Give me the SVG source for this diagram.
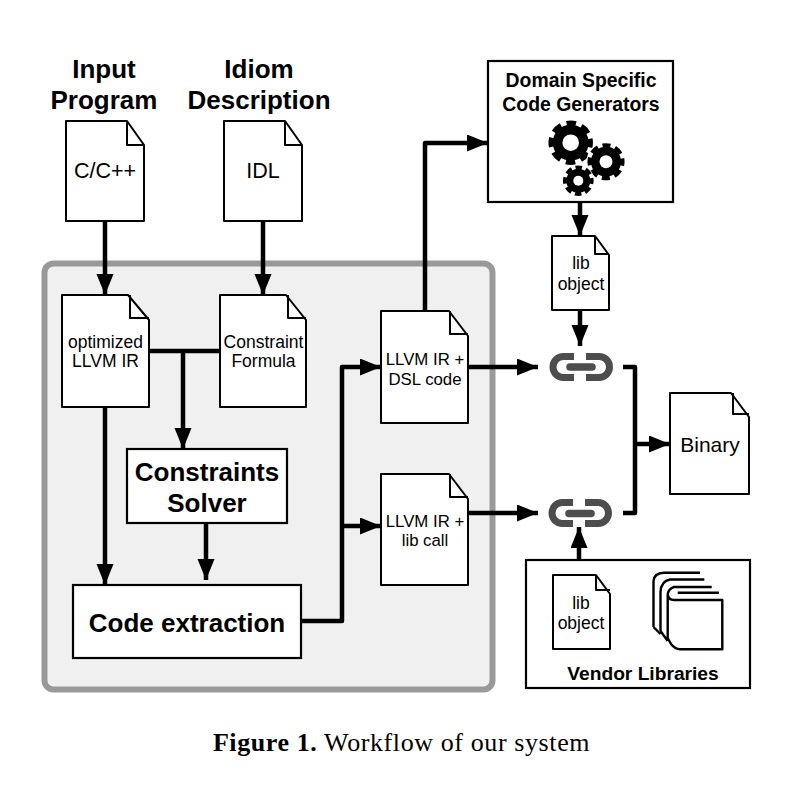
<svg xmlns="http://www.w3.org/2000/svg" width="797" height="793" viewBox="0 0 797 793">
<style>
text{font-family:"Liberation Sans",Arial,sans-serif;fill:#000;text-anchor:middle}
.b{font-weight:bold}
.box{fill:#fff;stroke:#000;stroke-width:2.2}
.doc{fill:#fff;stroke:#000;stroke-width:2;stroke-linejoin:round}
.fold{fill:none;stroke:#000;stroke-width:2;stroke-linejoin:round}
.c{fill:none;stroke:#000;stroke-width:4.5;stroke-linejoin:round}
.a{marker-end:url(#h)}
.link{fill:none;stroke:#4d4d4d;stroke-width:7}
.bar{stroke:#4d4d4d;stroke-width:7.5;stroke-linecap:round}
.stack{fill:none;stroke:#000;stroke-width:2.4;stroke-linejoin:round}
</style>
<defs>
<marker id="h" markerUnits="userSpaceOnUse" markerWidth="22" markerHeight="18" refX="21" refY="8.5" orient="auto"><path d="M0 0L21 8.5L0 17z" fill="#000"/></marker>
</defs>
<rect width="797" height="793" fill="#fff"/>
<rect id="workflow-container" x="44.5" y="263.5" width="448" height="426" rx="9" fill="#f0f0f0" stroke="#999" stroke-width="6"/>
<g id="connectors">
<path class="c a" d="M105 221V295"/>
<path class="c a" d="M263 221V295"/>
<path class="c" d="M149 351H220"/>
<path class="c a" d="M183 351V449"/>
<path class="c a" d="M105 407V585"/>
<path class="c a" d="M206 523V580"/>
<path class="c a" d="M301 621H342V367H381"/>
<path class="c a" d="M342 526H381"/>
<path class="c a" d="M425 311V143H488"/>
<path class="c a" d="M468 367H538"/>
<path class="c a" d="M468 513H538"/>
<path class="c a" d="M580 202V236"/>
<path class="c a" d="M580 310V346"/>
<path class="c a" d="M579 575V527"/>
<path class="c" d="M623 367H635V513H623"/>
<path class="c a" d="M635 444H670"/>
</g>
<g id="input-title"><text class="b" x="104" y="78" font-size="26">Input</text><text class="b" x="104" y="109" font-size="26">Program</text></g>
<g id="idiom-title"><text class="b" x="259" y="78" font-size="26">Idiom</text><text class="b" x="259" y="109" font-size="26">Description</text></g>
<g id="input-doc"><path class="doc" d="M66 121H127L144 145V221H66z"/><path class="fold" d="M127 121V145H144"/><text x="105" y="178" font-size="21.500">C/C++</text></g>
<g id="idiom-doc"><path class="doc" d="M224 121H285L302 145V221H224z"/><path class="fold" d="M285 121V145H302"/><text x="263" y="178" font-size="21.500">IDL</text></g>
<g id="optimized-doc"><path class="doc" d="M62 295H128L149 320V407H62z"/><path class="fold" d="M130 295V318H149"/><text x="105.500" y="347.500" font-size="17.500">optimized</text><text x="105.500" y="367" font-size="17.500">LLVM IR</text></g>
<g id="constraint-doc"><path class="doc" d="M220 295H286L306 320V407H220z"/><path class="fold" d="M288 295V318H306"/><text x="263.500" y="347.500" font-size="17.500">Constraint</text><text x="263.500" y="367" font-size="17.500">Formula</text></g>
<g id="solver"><rect class="box" x="127" y="449" width="160" height="74"/><text class="b" x="207" y="481" font-size="26">Constraints</text><text class="b" x="207" y="512" font-size="26">Solver</text></g>
<g id="extraction"><rect class="box" x="73" y="585" width="228" height="73"/><text class="b" x="187" y="632" font-size="26">Code extraction</text></g>
<g id="dsl-doc"><path class="doc" d="M381 311H449L468 336V423H381z"/><path class="fold" d="M450 311V334H468"/><text x="425" y="365" font-size="16.800">LLVM IR +</text><text x="425" y="385" font-size="16.800">DSL code</text></g>
<g id="libcall-doc"><path class="doc" d="M381 474H449L468 499V585H381z"/><path class="fold" d="M450 474V497H468"/><text x="425" y="527" font-size="16.800">LLVM IR +</text><text x="425" y="546" font-size="16.800">lib call</text></g>
<g id="generators"><rect class="box" x="488" y="61" width="185" height="141"/>
<text class="b" x="581" y="87" font-size="19.400">Domain Specific</text><text class="b" x="581" y="111" font-size="19.400">Code Generators</text>
<g fill="#000"><circle cx="570.700" cy="142.700" r="18"/><circle cx="570.700" cy="142.700" r="19.500" fill="none" stroke="#000" stroke-width="5.500" stroke-dasharray="9.500 5.810" stroke-dashoffset="4.750"/><circle cx="570.700" cy="142.700" r="8.300" fill="#fff"/>
<circle cx="606" cy="161.700" r="19.500" fill="#fff"/><circle cx="606" cy="161.700" r="15"/><circle cx="606" cy="161.700" r="16.300" fill="none" stroke="#000" stroke-width="4.500" stroke-dasharray="8 4.800" stroke-dashoffset="4"/><circle cx="606" cy="161.700" r="6.500" fill="#fff"/>
<circle cx="578.300" cy="180.700" r="16" fill="#fff"/><circle cx="578.300" cy="180.700" r="12"/><circle cx="578.300" cy="180.700" r="13.300" fill="none" stroke="#000" stroke-width="4" stroke-dasharray="6.500 3.950" stroke-dashoffset="3.250"/><circle cx="578.300" cy="180.700" r="5" fill="#fff"/></g></g>
<g id="lib-top"><path class="doc" d="M552 236H595L609 255V310H552z"/><path class="fold" d="M595 236V254H609"/><text x="581" y="269" font-size="17.500">lib</text><text x="581" y="290" font-size="17.500">object</text></g>
<g id="chain-top"><path class="link" d="M574 356.500H563.500a10.500 10.500 0 0 0 0 21H574M586 356.500H599a10.500 10.500 0 0 1 0 21H586"/><path class="bar" d="M570 367H592"/></g>
<g id="chain-bottom"><path class="link" d="M573 502.500H562.500a10.500 10.500 0 0 0 0 21H573M585 502.500H598a10.500 10.500 0 0 1 0 21H585"/><path class="bar" d="M569 513.500H591"/></g>
<g id="binary-doc"><path class="doc" d="M670 393H731L749 417V494H670z"/><path class="fold" d="M733 393V414H749"/><text x="710" y="452" font-size="21">Binary</text></g>
<g id="vendor"><rect class="box" x="526" y="560" width="224" height="128"/>
<text class="b" x="643" y="680" font-size="19.200">Vendor Libraries</text>
<path class="stack" d="M667.700 594.500Q668.500 600 674 600H722.300V649.300H680Q675 649 671 644L667.700 638V595Q668 589 674 587H711.700M677.700 592.700H719M660.500 631V592Q661 581 670 579.500H704.300M660.500 631L667.700 641M653.500 627V581Q654 573 664 572.700H700M653.500 627L660.500 634"/></g>
<g id="lib-bottom"><path class="doc" d="M553 575H596L610 594V649H553z"/><path class="fold" d="M596 575V590H610"/><text x="581" y="609" font-size="17.500">lib</text><text x="581" y="629" font-size="17.500">object</text></g>
<text id="caption" x="401.500" y="751" font-size="26" letter-spacing="0.600" style="font-family:'Liberation Serif',serif"><tspan font-weight="bold">Figure 1.</tspan> Workflow of our system</text>
</svg>
